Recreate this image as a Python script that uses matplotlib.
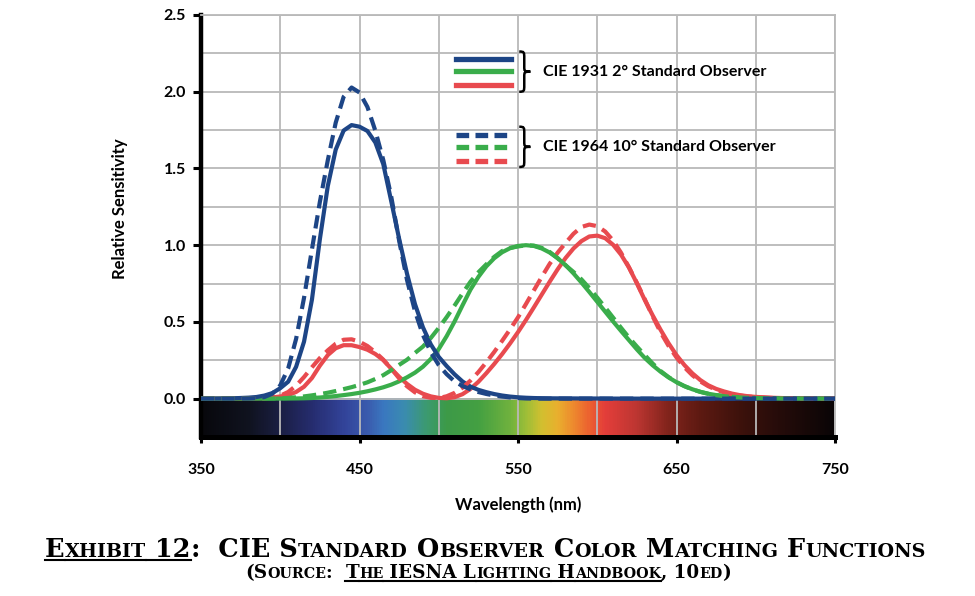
import numpy as np
import matplotlib
matplotlib.use('Agg')
import matplotlib.pyplot as plt
from matplotlib.colors import LinearSegmentedColormap
from matplotlib.path import Path
from matplotlib.patches import PathPatch
from matplotlib.lines import Line2D

# wavelength grid (nm)
nm = ([350, 360, 370] + list(range(380, 705, 5)) + [710, 720, 730, 740, 750])

# CIE 1931 2 deg observer (red = x, green = y, blue = z)
x_1931 = [0.0, 0.0001, 0.0004,
          0.0014, 0.0022, 0.0042, 0.0077, 0.0143, 0.0232, 0.0435, 0.0776, 0.1344, 0.2148,
          0.2839, 0.3285, 0.3483, 0.3481, 0.3362, 0.3187, 0.2908, 0.2511, 0.1954, 0.1421,
          0.0956, 0.0580, 0.0320, 0.0147, 0.0049, 0.0024, 0.0093, 0.0291, 0.0633, 0.1096,
          0.1655, 0.2258, 0.2904, 0.3597, 0.4335, 0.5121, 0.5945, 0.6784, 0.7621, 0.8425,
          0.9163, 0.9786, 1.0263, 1.0567, 1.0622, 1.0456, 1.0026, 0.9384, 0.8545, 0.7514,
          0.6424, 0.5419, 0.4479, 0.3608, 0.2835, 0.2187, 0.1649, 0.1212, 0.0874, 0.0636,
          0.0468, 0.0329, 0.0227, 0.0158, 0.0114,
          0.0058, 0.0029, 0.0014, 0.0007, 0.0003]
y_1931 = [0.0, 0.0, 0.0,
          0.0, 0.0001, 0.0001, 0.0002, 0.0004, 0.0006, 0.0012, 0.0022, 0.0040, 0.0073,
          0.0116, 0.0168, 0.0230, 0.0298, 0.0380, 0.0480, 0.0600, 0.0739, 0.0910, 0.1126,
          0.1390, 0.1693, 0.2080, 0.2586, 0.3230, 0.4073, 0.5030, 0.6082, 0.7100, 0.7932,
          0.8620, 0.9149, 0.9540, 0.9803, 0.9950, 1.0000, 0.9950, 0.9786, 0.9520, 0.9154,
          0.8700, 0.8163, 0.7570, 0.6949, 0.6310, 0.5668, 0.5030, 0.4412, 0.3810, 0.3210,
          0.2650, 0.2170, 0.1750, 0.1382, 0.1070, 0.0816, 0.0610, 0.0446, 0.0320, 0.0232,
          0.0170, 0.0119, 0.0082, 0.0057, 0.0041,
          0.0021, 0.0010, 0.0005, 0.0002, 0.0001]
z_1931 = [0.0, 0.0006, 0.0019,
          0.0065, 0.0106, 0.0201, 0.0362, 0.0679, 0.1102, 0.2074, 0.3713, 0.6456, 1.0391,
          1.3856, 1.6230, 1.7471, 1.7826, 1.7721, 1.7441, 1.6692, 1.5281, 1.2876, 1.0419,
          0.8130, 0.6162, 0.4652, 0.3533, 0.2720, 0.2123, 0.1582, 0.1117, 0.0783, 0.0573,
          0.0422, 0.0298, 0.0203, 0.0134, 0.0088, 0.0058, 0.0039, 0.0028, 0.0021, 0.0018,
          0.0017, 0.0014, 0.0011, 0.0010, 0.0008, 0.0006, 0.0003, 0.0002, 0.0002, 0.0001,
          0.0, 0.0, 0.0, 0.0, 0.0, 0.0, 0.0, 0.0, 0.0, 0.0,
          0.0, 0.0, 0.0, 0.0, 0.0,
          0.0, 0.0, 0.0, 0.0, 0.0]

# CIE 1964 10 deg observer
x_1964 = [0.0, 0.0, 0.0,
          0.0002, 0.0007, 0.0024, 0.0072, 0.0191, 0.0434, 0.0847, 0.1406, 0.2045, 0.2647,
          0.3147, 0.3577, 0.3837, 0.3867, 0.3707, 0.3430, 0.3023, 0.2541, 0.1956, 0.1323,
          0.0805, 0.0411, 0.0162, 0.0051, 0.0038, 0.0154, 0.0375, 0.0714, 0.1177, 0.1730,
          0.2365, 0.3042, 0.3768, 0.4516, 0.5298, 0.6161, 0.7052, 0.7938, 0.8787, 0.9512,
          1.0142, 1.0743, 1.1185, 1.1343, 1.1240, 1.0891, 1.0305, 0.9507, 0.8563, 0.7549,
          0.6475, 0.5351, 0.4316, 0.3437, 0.2683, 0.2043, 0.1526, 0.1122, 0.0813, 0.0579,
          0.0409, 0.0286, 0.0199, 0.0138, 0.0096,
          0.0046, 0.0022, 0.0010, 0.0005, 0.0003]
y_1964 = [0.0, 0.0, 0.0,
          0.0, 0.0001, 0.0003, 0.0008, 0.0020, 0.0045, 0.0088, 0.0145, 0.0214, 0.0295,
          0.0387, 0.0496, 0.0621, 0.0747, 0.0895, 0.1063, 0.1282, 0.1528, 0.1852, 0.2199,
          0.2536, 0.2977, 0.3391, 0.3954, 0.4608, 0.5314, 0.6067, 0.6857, 0.7618, 0.8233,
          0.8752, 0.9238, 0.9620, 0.9822, 0.9918, 0.9991, 0.9973, 0.9824, 0.9556, 0.9152,
          0.8689, 0.8256, 0.7774, 0.7204, 0.6583, 0.5939, 0.5280, 0.4618, 0.3981, 0.3396,
          0.2835, 0.2283, 0.1798, 0.1402, 0.1076, 0.0812, 0.0603, 0.0441, 0.0318, 0.0226,
          0.0159, 0.0111, 0.0077, 0.0054, 0.0037,
          0.0018, 0.0008, 0.0004, 0.0002, 0.0001]
z_1964 = [0.0, 0.0, 0.0,
          0.0007, 0.0029, 0.0105, 0.0323, 0.0860, 0.1971, 0.3894, 0.6568, 0.9725, 1.2825,
          1.5535, 1.7985, 1.9673, 2.0273, 1.9948, 1.9007, 1.7454, 1.5549, 1.3176, 1.0302,
          0.7721, 0.5701, 0.4153, 0.3024, 0.2185, 0.1592, 0.1120, 0.0822, 0.0607, 0.0431,
          0.0305, 0.0206, 0.0137, 0.0079, 0.0040, 0.0011, 0.0, 0.0, 0.0, 0.0,
          0.0, 0.0, 0.0, 0.0, 0.0, 0.0, 0.0, 0.0, 0.0, 0.0,
          0.0, 0.0, 0.0, 0.0, 0.0, 0.0, 0.0, 0.0, 0.0, 0.0,
          0.0, 0.0, 0.0, 0.0, 0.0,
          0.0, 0.0, 0.0, 0.0, 0.0]

# spectrum strip under the axis
spec_nm = [350, 380, 400, 420, 440, 455, 465, 478, 492, 505, 525, 545, 555, 565, 575,
           585, 595, 605, 625, 645, 665, 690, 715, 750]
spec_col = ['#08080c', '#101320', '#1b1f45', '#262d70', '#33449a', '#3a5cae', '#3a78c0',
            '#3a8cb0', '#3c9a70', '#3d9a48', '#44a042', '#70b23e', '#9cbe38', '#d2c030',
            '#e9b02e', '#ee8a2e', '#ec6230', '#e43e3a', '#bd3632', '#82241c', '#5e1a12',
            '#3e120c', '#260c0a', '#0a0506']

blue = '#1d4586'
green = '#3aad4b'
red = '#e84a4f'

plt.rcParams['font.family'] = ['Lato', 'DejaVu Sans']

fig = plt.figure(figsize=(9.75, 5.96), dpi=100)
ax = fig.add_axes([201 / 975, 1 - 437 / 596, 634 / 975, 422 / 596])

# spectrum bar
cmap = LinearSegmentedColormap.from_list(
    'spec', [((w - 350) / 400, c) for w, c in zip(spec_nm, spec_col)])
grad = np.linspace(0, 1, 800).reshape(1, -1)
ax.imshow(grad, cmap=cmap, extent=(350, 750, -0.25, 0), aspect='auto',
          interpolation='bilinear', zorder=0)

lw = 3.0
dash = (3.2, 1.7)
ax.plot(nm, x_1931, color=red, lw=lw, solid_capstyle='round', zorder=3)
ax.plot(nm, y_1931, color=green, lw=lw, solid_capstyle='round', zorder=3)
ax.plot(nm, z_1931, color=blue, lw=lw, solid_capstyle='round', zorder=3)
ax.plot(nm, x_1964, color=red, lw=lw, ls=(0, dash), zorder=4)
ax.plot(nm, y_1964, color=green, lw=lw, ls=(0, dash), zorder=4)
ax.plot(nm, z_1964, color=blue, lw=lw, ls=(0, dash), zorder=4)

ax.set_xlim(350, 750)
ax.set_ylim(-0.25, 2.5)

ax.set_xticks([350, 450, 550, 650, 750])
ax.set_xticks([400, 500, 600, 700], minor=True)
ax.set_yticks([0, 0.5, 1.0, 1.5, 2.0, 2.5])
ax.set_yticks([0.25, 0.75, 1.25, 1.75, 2.25], minor=True)
ax.set_yticklabels(['0.0', '0.5', '1.0', '1.5', '2.0', '2.5'])
ax.grid(True, which='both', color='#b9b9b9', lw=1.3)
for gl in ax.get_xgridlines() + ax.get_ygridlines():
    gl.set_zorder(1)
ax.tick_params(which='minor', length=0)
ax.tick_params(axis='y', which='major', direction='out', length=6, width=2.2,
               pad=5, labelsize=11.5)
ax.tick_params(axis='x', which='major', direction='out', length=4, width=2.2,
               pad=15, labelsize=11.5)
for lab in ax.get_xticklabels() + ax.get_yticklabels():
    lab.set_fontweight('bold')

ax.spines['left'].set_linewidth(3.2)
ax.spines['bottom'].set_linewidth(3.6)
for side in ['top', 'right']:
    ax.spines[side].set_color('#b9b9b9')
    ax.spines[side].set_linewidth(1.3)

ax.set_xlabel('Wavelength (nm)', fontsize=12, fontweight='bold')
ax.xaxis.set_label_coords(0.5, -0.142)
ax.set_ylabel('Relative Sensitivity', fontsize=12, fontweight='bold')
ax.yaxis.set_label_coords(-0.115, 0.54)

# legend
ax.plot([511, 545.5], [2.215, 2.215], color=blue, lw=3.8, zorder=5)
ax.plot([511, 545.5], [2.132, 2.132], color=green, lw=3.8, zorder=5)
ax.plot([511, 545.5], [2.041, 2.041], color=red, lw=3.8, zorder=5)
ax.plot([511, 544.5], [1.72, 1.72], color=blue, lw=3.8, ls=(0, (2.4, 1.2)), zorder=5)
ax.plot([511, 544.5], [1.637, 1.637], color=green, lw=3.8, ls=(0, (2.4, 1.2)), zorder=5)
ax.plot([511, 544.5], [1.546, 1.546], color=red, lw=3.8, ls=(0, (2.4, 1.2)), zorder=5)


def brace(x0, yt, yb, w):
    xm = x0 + w * 0.45
    x1 = x0 + w
    ym = (yt + yb) / 2
    h = yt - yb
    verts = [(x0, yt), (xm, yt), (xm, yt - 0.02 * h), (xm, yt - 0.16 * h),
             (xm, ym + 0.12 * h),
             (xm, ym + 0.02 * h), (xm, ym), (x1, ym),
             (xm, ym), (xm, ym - 0.02 * h), (xm, ym - 0.12 * h),
             (xm, yb + 0.16 * h),
             (xm, yb + 0.02 * h), (xm, yb), (x0, yb)]
    codes = [Path.MOVETO, Path.CURVE4, Path.CURVE4, Path.CURVE4, Path.LINETO,
             Path.CURVE4, Path.CURVE4, Path.CURVE4,
             Path.CURVE4, Path.CURVE4, Path.CURVE4, Path.LINETO,
             Path.CURVE4, Path.CURVE4, Path.CURVE4]
    ax.add_patch(PathPatch(Path(verts, codes), fc='none', ec='black', lw=1.8, zorder=5))


brace(550.8, 2.262, 2.0, 7.0)
brace(550.8, 1.772, 1.51, 7.0)
ax.text(565.5, 2.128, 'CIE 1931 2° Standard Observer', fontsize=11.5,
        fontweight='bold', va='center', ha='left', zorder=6)
ax.text(565.5, 1.637, 'CIE 1964 10° Standard Observer', fontsize=11.5,
        fontweight='bold', va='center', ha='left', zorder=6)

# caption in small caps
fig.canvas.draw()
renderer = fig.canvas.get_renderer()
cap_font = 'DejaVu Serif'
cap_weight = 'bold'


def text_width(s, size):
    t = fig.text(0, 0, s + '|', fontsize=size, family=cap_font, fontweight=cap_weight)
    t2 = fig.text(0, 0, '|', fontsize=size, family=cap_font, fontweight=cap_weight)
    w = t.get_window_extent(renderer).width - t2.get_window_extent(renderer).width
    t.remove()
    t2.remove()
    return w


def caption_line(parts, x0, x1, ybase, big, small):
    runs = []
    for s, ul in parts:
        cur = ''
        cur_small = None
        for ch in s:
            is_small = ch.islower()
            if cur and is_small != cur_small:
                runs.append((cur, cur_small, ul))
                cur = ''
            cur += ch.upper()
            cur_small = is_small
        if cur:
            runs.append((cur, cur_small, ul))
    widths = [text_width(r, small if sm else big) for r, sm, ul in runs]
    k = (x1 - x0) / sum(widths)
    x = x0
    W, H = fig.bbox.width, fig.bbox.height
    for (r, sm, ul), w in zip(runs, widths):
        size = (small if sm else big) * k
        fig.text(x / W, 1 - ybase / H, r, fontsize=size, family=cap_font,
                 fontweight=cap_weight, va='baseline', ha='left')
        if ul:
            fig.add_artist(Line2D([x / W, (x + w * k) / W],
                                  [1 - (ybase + 3) / H, 1 - (ybase + 3) / H],
                                  color='black', lw=1.5, transform=fig.transFigure))
        x += w * k


caption_line([('Exhibit 12', True), (':  CIE Standard Observer Color Matching Functions', False)],
             45, 926, 557, 15.8, 11.8)
caption_line([('(Source:  ', False), ('The IESNA Lighting Handbook', True), (', 10ed)', False)],
             245, 731, 578, 12.8, 9.9)

fig.savefig('out.png', dpi=100)
